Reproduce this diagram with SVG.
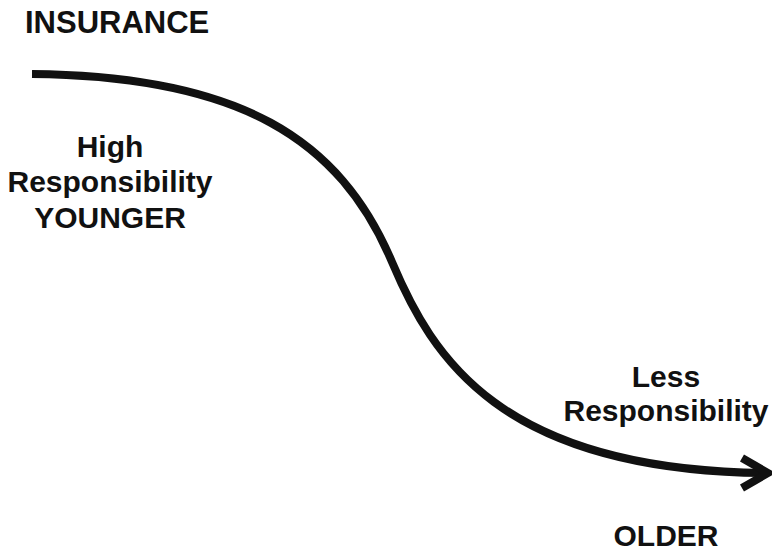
<svg xmlns="http://www.w3.org/2000/svg" width="772" height="551" viewBox="0 0 772 551">
  <style>
    .lbl { font-family: "Liberation Sans", Arial, sans-serif; font-weight: bold; fill: #111; }
    .mid { text-anchor: middle; }
    .curve { fill: none; stroke: #111; stroke-width: 8; }
  </style>
  <rect width="772" height="551" fill="#fff"/>

  <g id="connectors">
    <!-- S-shaped decline curve ending in an open chevron arrowhead -->
    <path class="curve" d="M32,74 C240,76 340,139 392,262 C432,357 500,470 764,473"/>
    <polyline class="curve" points="742,458 768,473 742,488" stroke-linejoin="miter" stroke-miterlimit="10"/>
  </g>

  <g id="insurance">
    <text class="lbl" x="25" y="33" font-size="31">INSURANCE</text>
  </g>

  <g id="younger">
    <text class="lbl mid" x="110" y="157" font-size="30">High</text>
    <text class="lbl mid" x="110" y="192" font-size="30">Responsibility</text>
    <text class="lbl mid" x="110" y="228" font-size="30">YOUNGER</text>
  </g>

  <g id="older">
    <text class="lbl mid" x="666" y="387" font-size="30">Less</text>
    <text class="lbl mid" x="666" y="421" font-size="30">Responsibility</text>
    <text class="lbl mid" x="666" y="546" font-size="30">OLDER</text>
  </g>
</svg>
